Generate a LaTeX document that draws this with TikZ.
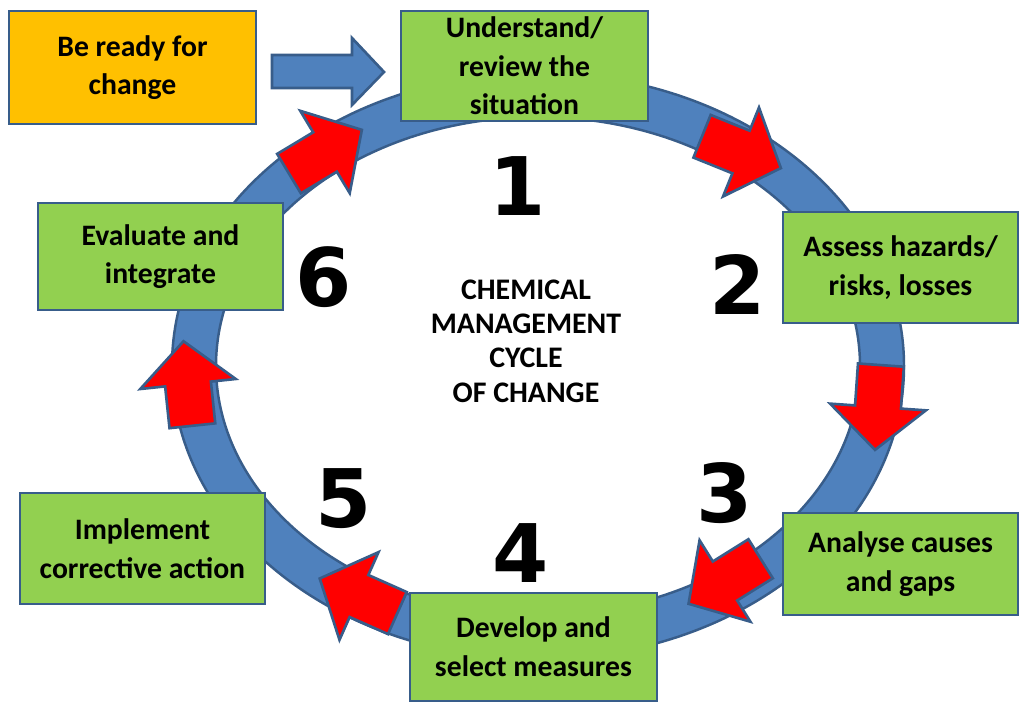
\documentclass[tikz,border=0pt]{standalone}
\usepackage{fontspec}
\setmainfont{Carlito}
\newfontfamily\digitfont{DejaVu Sans}
\usetikzlibrary{positioning}
\definecolor{ringblue}{HTML}{4F81BD}
\definecolor{edgeblue}{HTML}{385D8A}
\definecolor{stagegreen}{HTML}{92D050}
\definecolor{readyorange}{HTML}{FFC000}
\definecolor{turnred}{HTML}{FF0000}

% red block arrow on the ring: x, y, direction
\newcommand{\turnarrow}[3]{%
  \draw[turn, shift={(#1,#2)}, rotate=#3] (-42,-23) -- (0,-23) -- (0,-48) -- (43,0) -- (0,48) -- (0,23) -- (-42,23) -- cycle;}

\begin{document}
\begin{tikzpicture}[
  x=0.02cm, y=-0.02cm,
  stage/.style={draw=edgeblue, line width=1.6pt, fill=stagegreen, inner sep=0pt, align=center, font=\bfseries\fontsize{16.9}{22}\selectfont},
  turn/.style={draw=edgeblue, line width=1.5pt, fill=turnred, line join=miter},
  digit/.style={font=\digitfont\bfseries\fontsize{46}{46}\selectfont}
]
\useasboundingbox (0,0) rectangle (1020,702);
% ring
\path[fill=ringblue, draw=edgeblue, line width=1.4pt, even odd rule]
  (538,366) ellipse [x radius=366, y radius=293]
  (538,366) ellipse [x radius=322, y radius=249];
% arrows round the cycle
\turnarrow{325}{152}{31}
\turnarrow{741}{152}{-22}
\turnarrow{878}{407}{-94}
\turnarrow{725}{581}{212}
\turnarrow{359}{596}{156}
\turnarrow{188}{384}{96}
% stages
\node[stage, fill=readyorange, minimum width=4.94cm, minimum height=2.26cm] (ready) at (132.5,67.5) {Be ready for\\change};
\node[stage, minimum width=4.94cm, minimum height=2.2cm] (understand) at (524.5,66) {Understand/\\review the\\situation};
\node[stage, minimum width=4.7cm, minimum height=2.22cm] (assess) at (900.5,267.5) {Assess hazards/\\risks, losses};
\node[stage, minimum width=4.7cm, minimum height=2.04cm] (analyse) at (900.5,564) {Analyse causes\\and gaps};
\node[stage, minimum width=4.94cm, minimum height=2.16cm] (develop) at (533.5,647) {Develop and\\select measures};
\node[stage, minimum width=4.9cm, minimum height=2.22cm] (implement) at (142.5,548.5) {Implement\\corrective action};
\node[stage, minimum width=4.9cm, minimum height=2.14cm] (evaluate) at (160.5,256.5) {Evaluate and\\integrate};
% entry arrow
\draw[fill=ringblue, draw=edgeblue, line width=1.5pt] (272,55) -- (352,55) -- (352,38) -- (384,72) -- (352,105) -- (352,88) -- (272,88) -- cycle;
% numbers
\node[digit] (n1) at (518,186) {1};
\node[digit] (n2) at (738,285) {2};
\node[digit] (n3) at (725,493) {3};
\node[digit] (n4) at (521,553) {4};
\node[digit] (n5) at (344,499) {5};
\node[digit] (n6) at (324,277) {6};
% title
\node[align=center, font=\bfseries\fontsize{17}{19.5}\selectfont] (title) at (526,341) {CHEMICAL\\MANAGEMENT\\CYCLE\\OF CHANGE};
\end{tikzpicture}
\end{document}
